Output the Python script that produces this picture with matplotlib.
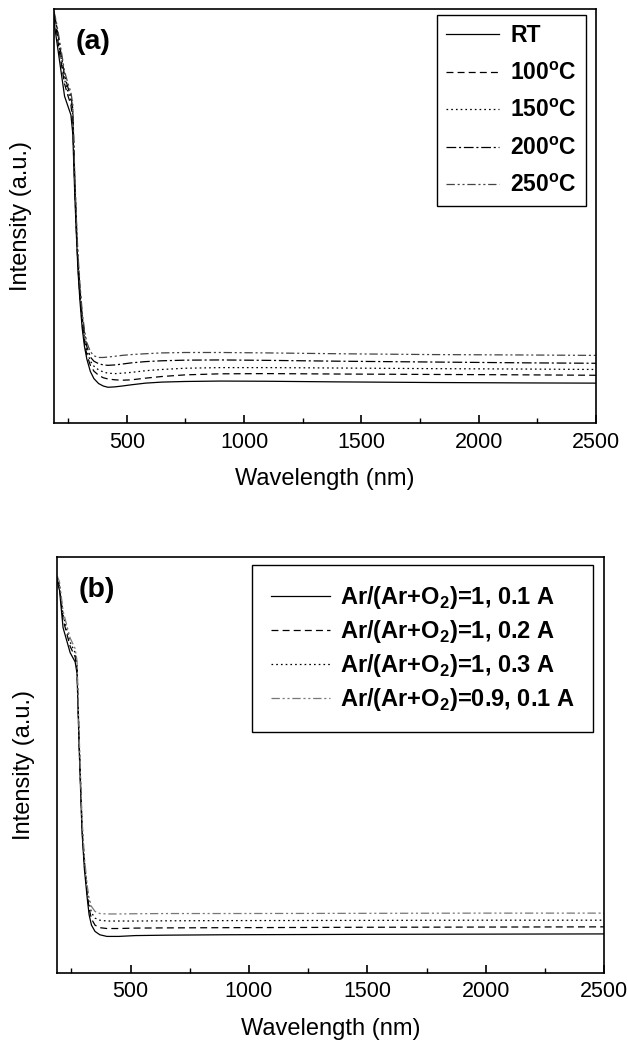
import numpy as np
import matplotlib
matplotlib.use("Agg")
import matplotlib.pyplot as plt
from matplotlib.ticker import MultipleLocator, NullLocator

plt.rcParams['font.family'] = ['Liberation Sans', 'DejaVu Sans']
plt.rcParams['mathtext.fontset'] = 'custom'
plt.rcParams['mathtext.rm'] = 'Liberation Sans'
plt.rcParams['mathtext.bf'] = 'Liberation Sans:bold'
plt.rcParams['lines.scale_dashes'] = False

# ---- panel (a): annealing temperature ----
wl_a = [190, 200, 215, 235, 250, 262, 270, 278, 285, 292, 300, 310, 320, 330, 345,
        360, 380, 400, 420, 450, 480, 520, 580, 650, 750, 900, 1100, 1400, 1800, 2200, 2500]
rt = [97, 93, 87, 79, 76.5, 74.5, 70, 56, 46, 37, 30, 23, 18.5, 15.5, 12.5,
      10.8, 9.6, 9.0, 8.7, 8.8, 9.0, 9.3, 9.7, 9.95, 10.1, 10.2, 10.15, 10.0, 9.85, 9.75, 9.7]
t100 = [98, 95, 89, 82, 79, 77, 73, 58, 47, 38, 31, 24, 19.5, 16.5, 14,
        12.6, 11.6, 11.0, 10.7, 10.5, 10.4, 10.5, 10.9, 11.3, 11.7, 11.95, 12.0, 11.9, 11.8, 11.7, 11.6]
t150 = [98.5, 96, 90, 83, 80, 78, 74.5, 59, 48, 39, 32, 25, 20.5, 17.5, 15,
        13.8, 12.9, 12.4, 12.1, 12.0, 12.1, 12.3, 12.7, 13.0, 13.3, 13.45, 13.45, 13.35, 13.2, 13.1, 13.0]
t200 = [99, 96.5, 91, 84, 81, 79, 76, 60, 49, 40, 33, 26, 21.5, 18.5, 16.0,
        15.0, 14.4, 14.1, 14.0, 14.1, 14.3, 14.6, 14.9, 15.1, 15.25, 15.3, 15.2, 15.0, 14.8, 14.6, 14.5]
t250 = [99.5, 97, 92, 85, 82, 80, 77, 61, 50, 41, 34, 27, 22.5, 19.5, 17.3,
        16.3, 15.9, 15.9, 16.0, 16.2, 16.4, 16.6, 16.8, 17.0, 17.1, 17.1, 17.0, 16.8, 16.6, 16.5, 16.4]
labels_a = ['RT', '100$^{\\mathbf{o}}$C', '150$^{\\mathbf{o}}$C',
            '200$^{\\mathbf{o}}$C', '250$^{\\mathbf{o}}$C']

# ---- panel (b): gas ratio / current ----
wl_b = [190, 200, 215, 245, 266, 274, 283, 295, 305, 317, 325, 335, 350, 370,
        400, 450, 520, 650, 900, 1500, 2000, 2500]
b1 = [94, 92, 83, 77, 74.8, 72, 54, 34, 25, 18, 14, 11.5, 10, 9.2,
      8.8, 8.8, 9.0, 9.1, 9.2, 9.3, 9.35, 9.4]
b2 = [94.5, 93, 85, 78.5, 76, 73, 55, 35, 26, 19, 15.5, 13, 11.5, 10.9,
      10.7, 10.7, 10.8, 10.85, 10.9, 11.0, 11.05, 11.1]
b3 = [95, 93.5, 86, 79.5, 77, 74, 56, 36, 27, 20, 17, 14.5, 13.2, 12.7,
      12.5, 12.5, 12.5, 12.55, 12.6, 12.65, 12.7, 12.7]
b4 = [95.5, 94, 87, 80.5, 78, 75, 57, 37, 28, 21, 18, 16, 14.8, 14.3,
      14.2, 14.2, 14.25, 14.3, 14.3, 14.35, 14.4, 14.4]
labels_b = ['Ar/(Ar+O$_{\\mathbf{2}}$)=1, 0.1 A', 'Ar/(Ar+O$_{\\mathbf{2}}$)=1, 0.2 A',
            'Ar/(Ar+O$_{\\mathbf{2}}$)=1, 0.3 A', 'Ar/(Ar+O$_{\\mathbf{2}}$)=0.9, 0.1 A']

styles = ['-', (0, (5, 3)), (0, (1.2, 2.2)), (0, (7, 2, 1.5, 2)), (0, (6, 2, 1.5, 2, 1.5, 2))]

fig = plt.figure(figsize=(6.28, 10.4), dpi=100)
ax_a = fig.add_axes([0.086, 0.593, 0.863, 0.398])
ax_b = fig.add_axes([0.091, 0.0644, 0.871, 0.400])


def style_axes(ax, tag):
    ax.set_xlim(190, 2500)
    ax.set_ylim(0, 100)
    ax.xaxis.set_major_locator(MultipleLocator(500))
    ax.xaxis.set_minor_locator(MultipleLocator(250))
    ax.yaxis.set_major_locator(NullLocator())
    ax.tick_params(axis='x', which='major', direction='in', length=6, width=1.2,
                   labelsize=15.5, pad=6)
    ax.tick_params(axis='x', which='minor', direction='in', length=3.5, width=1.0)
    for s in ax.spines.values():
        s.set_linewidth(1.2)
    ax.set_xlabel('Wavelength (nm)', fontsize=17, labelpad=11)
    ax.set_ylabel('Intensity (a.u.)', fontsize=17, labelpad=16)
    ax.text(0.072, 0.92, tag, transform=ax.transAxes, fontsize=20.5,
            fontweight='bold', ha='center', va='center')


series_a = [rt, t100, t150, t200, t250]
colors_a = ['black', 'black', 'black', 'black', '#444444']
for y, ls, c, lab in zip(series_a, styles, colors_a, labels_a):
    ax_a.plot(wl_a, y, linestyle=ls, color=c, lw=0.9, label=lab)
style_axes(ax_a, '(a)')
leg_a = ax_a.legend(loc='upper right', bbox_to_anchor=(0.982, 0.986), borderaxespad=0,
                    fancybox=False, edgecolor='black', framealpha=1,
                    prop={'weight': 'bold', 'size': 16.5}, handlelength=2.3,
                    handletextpad=0.5, labelspacing=0.63, borderpad=0.4)
leg_a.get_frame().set_linewidth(1.0)

series_b = [b1, b2, b3, b4]
colors_b = ['black', 'black', 'black', '#777777']
styles_b = [styles[0], styles[1], styles[2], styles[4]]
for y, ls, c, lab in zip(series_b, styles_b, colors_b, labels_b):
    ax_b.plot(wl_b, y, linestyle=ls, color=c, lw=0.9, label=lab)
style_axes(ax_b, '(b)')
leg_b = ax_b.legend(loc='upper right', bbox_to_anchor=(0.98, 0.981), borderaxespad=0,
                    fancybox=False, edgecolor='black', framealpha=1,
                    prop={'weight': 'bold', 'size': 17}, handlelength=2.5,
                    handletextpad=0.4, labelspacing=0.3, borderpad=0.8)
leg_b.get_frame().set_linewidth(1.0)

fig.savefig('out.png', dpi=100)
